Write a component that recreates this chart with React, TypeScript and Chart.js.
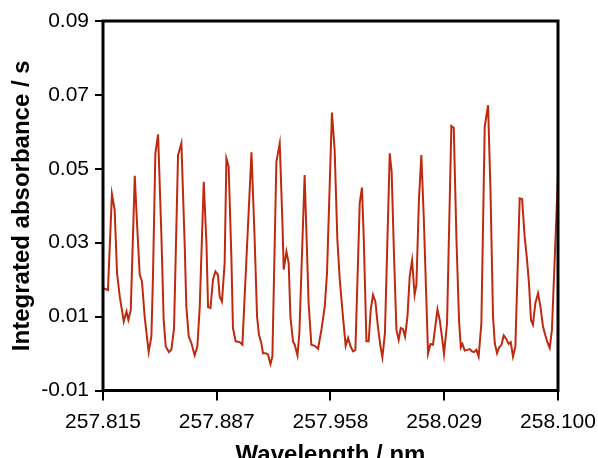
import React, { useEffect, useRef } from "react";
import { Chart, registerables } from "chart.js";

Chart.register(...registerables);

const wavelength = [
  257.815, 257.8181, 257.8206, 257.8223, 257.8238, 257.8255, 257.828, 257.8297, 257.8309, 257.8324,
  257.8349, 257.8363, 257.838, 257.8394, 257.8411, 257.8436, 257.8453, 257.8463, 257.8478, 257.8495,
  257.8516, 257.853, 257.8543, 257.8563, 257.8578, 257.8595, 257.862, 257.8641, 257.8662, 257.8672,
  257.8687, 257.8704, 257.8724, 257.8741, 257.8756, 257.8781, 257.8798, 257.8808, 257.8823, 257.8839,
  257.8854, 257.887, 257.8881, 257.8895, 257.8912, 257.8923, 257.8937, 257.8954, 257.8964, 257.8981,
  257.9006, 257.9023, 257.908, 257.91, 257.9115, 257.9127, 257.9142, 257.9152, 257.9169, 257.9184,
  257.9199, 257.9211, 257.9236, 257.9257, 257.9274, 257.9282, 257.9299, 257.9313, 257.9324, 257.934,
  257.9351, 257.9368, 257.938, 257.9413, 257.9438, 257.9455, 257.9476, 257.9497, 257.9518, 257.9539,
  257.9553, 257.9584, 257.9601, 257.9618, 257.9633, 257.9653, 257.967, 257.9685, 257.9701, 257.9716,
  257.9731, 257.9758, 257.9772, 257.9783, 257.98, 257.9814, 257.9827, 257.9841, 257.9856, 257.9872,
  257.9888, 257.99, 257.9916, 257.9946, 257.9958, 257.9973, 257.9988, 258.0002, 258.0015, 258.0029,
  258.0042, 258.0057, 258.0071, 258.0086, 258.0102, 258.0113, 258.0129, 258.0144, 258.0159, 258.0186,
  258.0201, 258.0217, 258.0245, 258.0259, 258.0273, 258.0286, 258.0305, 258.0332, 258.0347, 258.0364,
  258.038, 258.0391, 258.0401, 258.0416, 258.0433, 258.0447, 258.0461, 258.0474, 258.0489, 258.0503,
  258.052, 258.0541, 258.0562, 258.0577, 258.0593, 258.0604, 258.0618, 258.063, 258.0646, 258.066,
  258.0677, 258.0691, 258.0704, 258.0718, 258.0733, 258.076, 258.0775, 258.0791, 258.0806, 258.0818,
  258.0831, 258.0843, 258.0858, 258.0875, 258.089, 258.0906, 258.0921, 258.0936, 258.0948, 258.0962,
  258.1,
];

const absorbance = [
  0.0177, 0.0172, 0.0432, 0.0389, 0.0218, 0.0154, 0.0087, 0.0114, 0.0091, 0.0118,
  0.0481, 0.0353, 0.0213, 0.0195, 0.01, 0.0004, 0.0046, 0.0208, 0.0542, 0.0593,
  0.0317, 0.0091, 0.0019, 0.0004, 0.001, 0.0069, 0.0537, 0.0569, 0.029, 0.0127,
  0.0046, 0.0028, -0.0005, 0.0019, 0.0127, 0.0465, 0.0299, 0.0126, 0.0123, 0.02,
  0.0222, 0.0213, 0.0154, 0.0141, 0.0245, 0.0528, 0.0506, 0.0263, 0.0069, 0.0033,
  0.0031, 0.0024, 0.0545, 0.0308, 0.01, 0.0051, 0.0028, 0.0001, 0.0001, -0.0003,
  -0.0028, -0.0008, 0.0519, 0.0569, 0.0353, 0.0227, 0.0276, 0.0245, 0.01, 0.0033,
  0.0024, -0.0005, 0.0055, 0.0483, 0.0136, 0.0024, 0.0021, 0.0013, 0.0064, 0.0127,
  0.0217, 0.0652, 0.0551, 0.0308, 0.02, 0.01, 0.0021, 0.0042, 0.0019, 0.0006,
  0.001, 0.0407, 0.0449, 0.0317, 0.0033, 0.0033, 0.0118, 0.0159, 0.0141, 0.0073,
  0.0019, -0.001, 0.0055, 0.0542, 0.0492, 0.0263, 0.0064, 0.0037, 0.0069, 0.0066,
  0.0046, 0.01, 0.0208, 0.0252, 0.0159, 0.0186, 0.0416, 0.0537, 0.0371, 0.0,
  0.0026, 0.0024, 0.012, 0.0091, 0.0046, -0.0001, 0.0082, 0.0616, 0.0611, 0.0308,
  0.0091, 0.0017, 0.0026, 0.0008, 0.001, 0.0012, 0.0006, 0.0004, 0.001, -0.0008,
  0.0082, 0.0614, 0.0672, 0.0443, 0.01, 0.0028, 0.0001, 0.0015, 0.0024, 0.0049,
  0.0039, 0.0026, 0.0031, -0.0008, 0.0019, 0.042, 0.0418, 0.0317, 0.0254, 0.0191,
  0.0091, 0.0078, 0.0136, 0.0163, 0.0127, 0.0073, 0.0049, 0.0028, 0.0015, 0.0064,
  0.0483,
];

const xTickValues = [257.815, 257.88625, 257.9575, 258.02875, 258.1];
const xTickLabels = ["257.815", "257.887", "257.958", "258.029", "258.100"];
const yTickValues = [-0.01, 0.01, 0.03, 0.05, 0.07, 0.09];
const yTickLabels = ["-0.01", "0.01", "0.03", "0.05", "0.07", "0.09"];

const FONT = "'Liberation Sans', Arial, Helvetica, sans-serif";

const framePlugin = {
  id: "frame",
  afterDraw(chart: any) {
    const { ctx, chartArea } = chart;
    ctx.save();
    ctx.strokeStyle = "#000";
    ctx.lineWidth = 3;
    ctx.strokeRect(chartArea.left, chartArea.top, chartArea.right - chartArea.left, chartArea.bottom - chartArea.top);
    ctx.restore();
  },
};

export default function App() {
  const canvasRef = useRef<HTMLCanvasElement | null>(null);

  useEffect(() => {
    if (!canvasRef.current) return;
    const points = wavelength.map((w, i) => ({ x: w, y: absorbance[i] }));
    const chart = new Chart(canvasRef.current, {
      type: "line",
      data: {
        datasets: [
          {
            data: points,
            borderColor: "#BE2A10",
            borderWidth: 2,
            pointRadius: 0,
            tension: 0,
            fill: false,
          },
        ],
      },
      options: {
        animation: false,
        responsive: true,
        maintainAspectRatio: false,
        layout: { padding: { left: 0, right: 40, top: 21, bottom: 0 } },
        plugins: { legend: { display: false }, tooltip: { enabled: false } },
        scales: {
          x: {
            type: "linear",
            min: 257.815,
            max: 258.1,
            afterBuildTicks: (scale: any) => {
              scale.ticks = xTickValues.map((v) => ({ value: v }));
            },
            afterFit: (scale: any) => {
              scale.height = 67.5;
              scale.paddingLeft = 0;
              scale.paddingRight = 0;
            },
            ticks: {
              autoSkip: false,
              maxRotation: 0,
              padding: 2,
              color: "#000",
              font: { family: FONT, size: 21, lineHeight: 1.85 },
              callback: (_v: any, i: number) => xTickLabels[i],
            },
            grid: {
              display: true,
              drawOnChartArea: false,
              drawTicks: true,
              tickLength: 10,
              color: "#000",
              lineWidth: 2,
            },
            border: { display: false },
            title: {
              display: true,
              text: "Wavelength / nm",
              color: "#000",
              font: { family: FONT, size: 24, weight: "bold" },
              padding: { top: 0, bottom: -12 },
            },
          },
          y: {
            type: "linear",
            min: -0.01,
            max: 0.09,
            afterBuildTicks: (scale: any) => {
              scale.ticks = yTickValues.map((v) => ({ value: v }));
            },
            afterFit: (scale: any) => {
              scale.width = 103;
            },
            ticks: {
              autoSkip: false,
              padding: 6,
              color: "#000",
              font: { family: FONT, size: 21 },
              callback: (_v: any, i: number) => yTickLabels[i],
            },
            grid: {
              display: true,
              drawOnChartArea: false,
              drawTicks: true,
              tickLength: 8,
              color: "#000",
              lineWidth: 2,
            },
            border: { display: false },
            title: {
              display: true,
              text: "Integrated absorbance / s",
              color: "#000",
              font: { family: FONT, size: 24, weight: "bold" },
              padding: { top: 8, bottom: 0 },
            },
          },
        },
      },
      plugins: [framePlugin],
    });
    return () => chart.destroy();
  }, []);

  return (
    <div style={{ position: "absolute", left: 0, top: 0, width: 598, height: 458, background: "#fff" }}>
      <canvas ref={canvasRef} />
    </div>
  );
}
